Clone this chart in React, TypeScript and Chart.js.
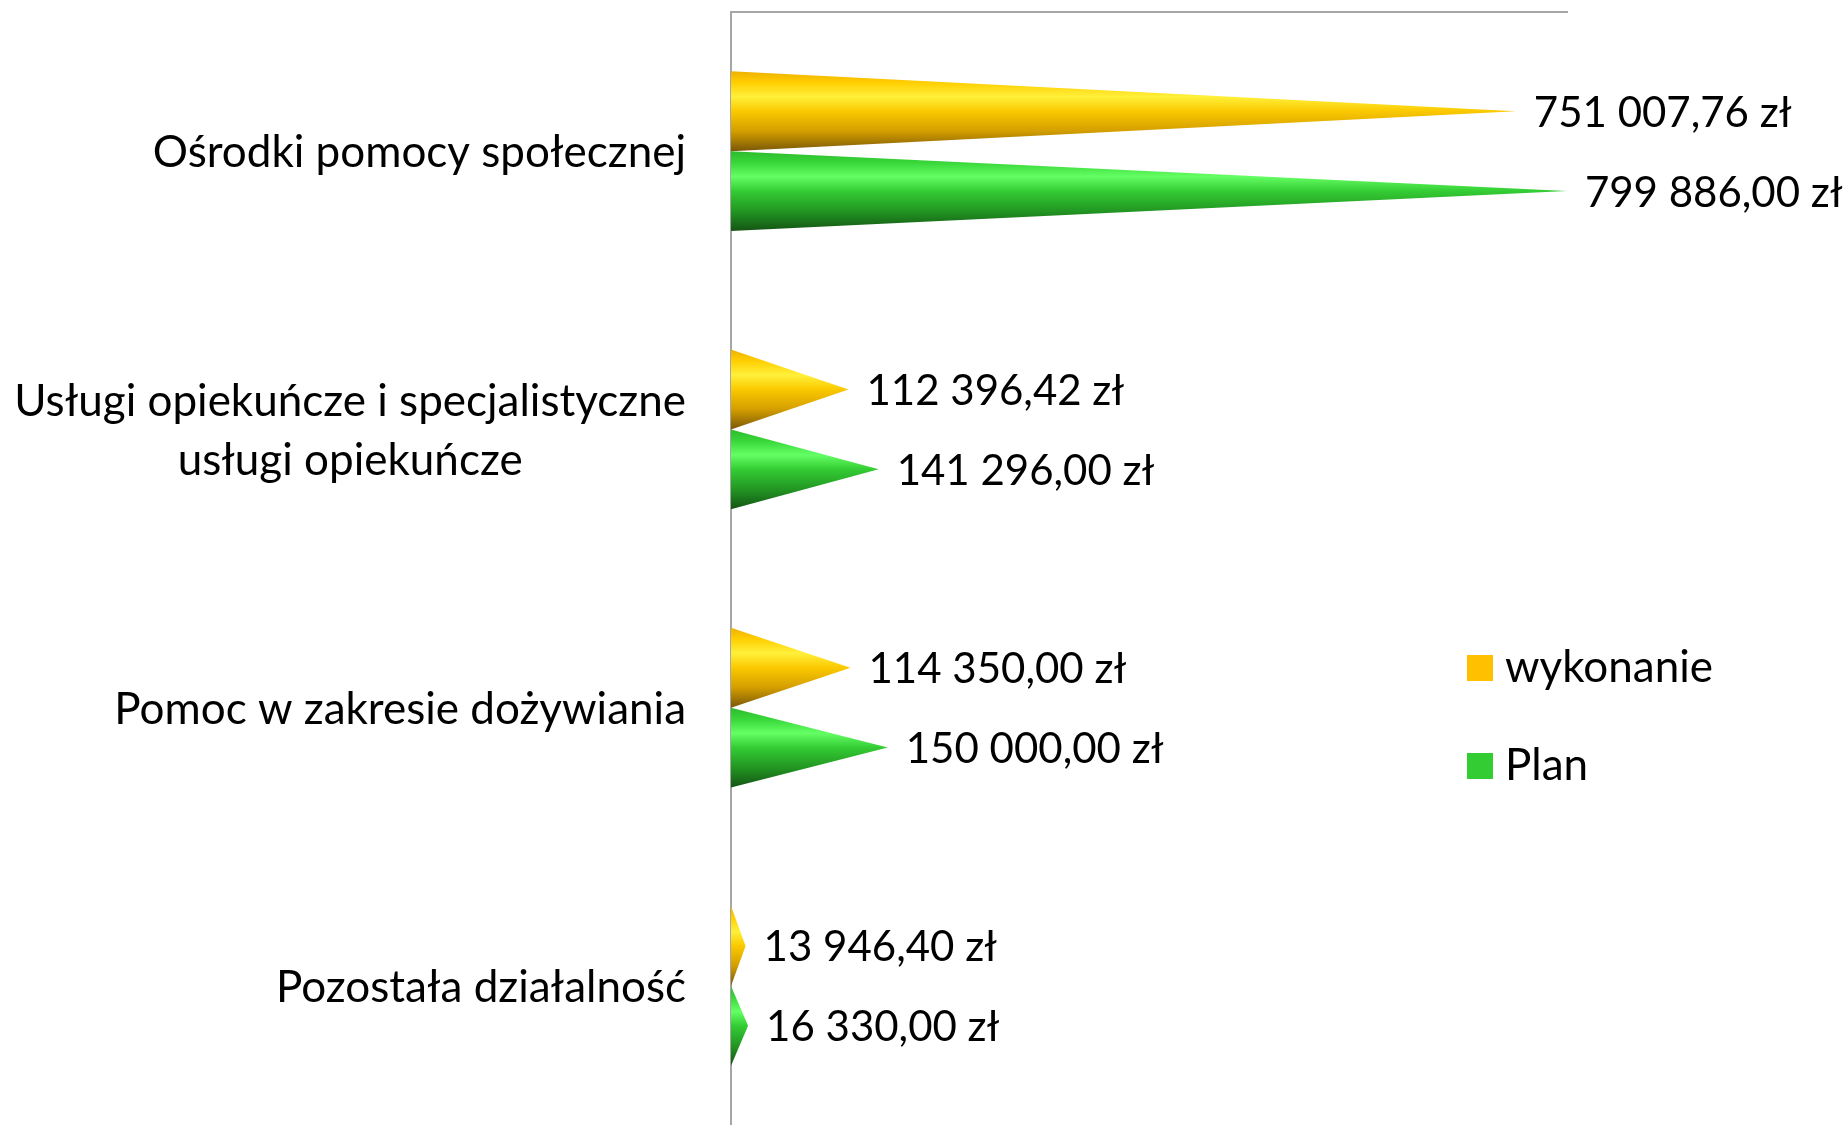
import React, { useEffect, useRef } from "react";
import { Chart, registerables } from "chart.js";

Chart.register(...registerables);

const categories: string[][] = [
  ["Ośrodki pomocy społecznej"],
  ["Usługi opiekuńcze i specjalistyczne", "usługi opiekuńcze"],
  ["Pomoc w zakresie dożywiania"],
  ["Pozostała działalność"],
];
const wykonanie = [751007.76, 112396.42, 114350.0, 13946.4];
const plan = [799886.0, 141296.0, 150000.0, 16330.0];
const seriesNames = ["wykonanie", "Plan"];
const seriesColors = ["#FFC000", "#33CC33"];
const xMax = 800000;

const FONT = "Lato";
const LABEL_SIZE = 44;
const VALUE_SIZE = 42;
const LEGEND_SIZE = 44;

const gradientStops: [number, string][][] = [
  [
    [0, "#EFB000"],
    [0.14, "#FFCE00"],
    [0.32, "#FFF03A"],
    [0.5, "#FBC900"],
    [0.75, "#D49E00"],
    [1, "#7A5806"],
  ],
  [
    [0, "#2DBA2D"],
    [0.14, "#38D638"],
    [0.32, "#64FF64"],
    [0.5, "#34CC34"],
    [0.75, "#229622"],
    [1, "#145414"],
  ],
];

function fmt(v: number): string {
  const fixed = v.toFixed(2);
  const [intPart, dec] = fixed.split(".");
  const withSpaces = intPart.replace(/\B(?=(\d{3})+(?!\d))/g, " ");
  return `${withSpaces},${dec} zł`;
}

const conePlugin = {
  id: "cones",
  afterDatasetsDraw(chart: any) {
    const ctx = chart.ctx;
    chart.data.datasets.forEach((ds: any, di: number) => {
      const meta = chart.getDatasetMeta(di);
      meta.data.forEach((el: any, i: number) => {
        const { x, y, base, height } = el.getProps(["x", "y", "base", "height"], true);
        const top = y - height / 2;
        const bottom = y + height / 2;
        const g = ctx.createLinearGradient(0, top, 0, bottom);
        gradientStops[di].forEach(([o, c]) => g.addColorStop(o, c));
        ctx.save();
        ctx.beginPath();
        ctx.moveTo(base, top);
        ctx.lineTo(x, y);
        ctx.lineTo(base, bottom);
        ctx.closePath();
        ctx.fillStyle = g;
        ctx.fill();
        ctx.restore();

        ctx.save();
        ctx.font = `${VALUE_SIZE}px ${FONT}`;
        ctx.fillStyle = "#000000";
        ctx.textAlign = "left";
        ctx.textBaseline = "middle";
        ctx.fillText(fmt(ds.data[i]), x + 18, y + 2);
        ctx.restore();
      });
    });
  },
};

const categoryLabelPlugin = {
  id: "catLabels",
  afterDraw(chart: any) {
    const ctx = chart.ctx;
    const yScale = chart.scales.y;
    const right = chart.chartArea.left - 45;
    const lineH = 59;
    ctx.save();
    ctx.font = `${LABEL_SIZE}px ${FONT}`;
    ctx.fillStyle = "#000000";
    ctx.textBaseline = "middle";
    ctx.textAlign = "center";
    categories.forEach((lines, i) => {
      const cy = yScale.getPixelForValue(i) + 2;
      const w = Math.max(...lines.map((l) => ctx.measureText(l).width));
      const cx = right - w / 2;
      lines.forEach((l, li) => {
        const ly = cy + (li - (lines.length - 1) / 2) * lineH;
        ctx.fillText(l, cx, ly);
      });
    });
    ctx.restore();
  },
};

const legendPlugin = {
  id: "customLegend",
  afterDraw(chart: any) {
    const ctx = chart.ctx;
    const x0 = 1467;
    const ys = [668, 766];
    ctx.save();
    ctx.font = `${LEGEND_SIZE}px ${FONT}`;
    ctx.textBaseline = "middle";
    ctx.textAlign = "left";
    seriesNames.forEach((n, i) => {
      ctx.fillStyle = seriesColors[i];
      ctx.fillRect(x0, ys[i] - 13, 26, 26);
      ctx.fillStyle = "#000000";
      ctx.fillText(n, x0 + 38, ys[i]);
    });
    ctx.restore();
  },
};

export default function App() {
  const ref = useRef<HTMLCanvasElement | null>(null);
  useEffect(() => {
    document.body.style.margin = "0";
    const canvas = ref.current!;
    const chart = new Chart(canvas, {
      type: "bar",
      data: {
        labels: categories.map((c) => c.join(" ")),
        datasets: [
          {
            label: seriesNames[0],
            data: wykonanie,
            backgroundColor: "rgba(0,0,0,0)",
            borderWidth: 0,
          },
          {
            label: seriesNames[1],
            data: plan,
            backgroundColor: "rgba(0,0,0,0)",
            borderWidth: 0,
          },
        ],
      },
      options: {
        indexAxis: "y",
        responsive: false,
        animation: false,
        layout: { padding: { left: 731, top: 12, right: 280, bottom: 0 } },
        datasets: { bar: { categoryPercentage: 0.575, barPercentage: 1 } },
        plugins: {
          legend: { display: false },
          tooltip: { enabled: false },
        },
        scales: {
          x: {
            position: "top",
            min: 0,
            max: xMax,
            grid: { display: false },
            ticks: { display: false },
            border: { display: true, color: "#A6A6A6", width: 2 },
            afterFit: (s: any) => {
              s.height = 0;
            },
          },
          y: {
            grid: { display: false },
            ticks: { display: false },
            border: { display: true, color: "#A6A6A6", width: 2 },
            afterFit: (s: any) => {
              s.width = 0;
            },
          },
        },
      } as any,
      plugins: [conePlugin, categoryLabelPlugin, legendPlugin],
    });
    return () => chart.destroy();
  }, []);
  return (
    <div style={{ width: 1847, height: 1125 }}>
      <canvas ref={ref} width={1847} height={1125} style={{ display: "block" }} />
    </div>
  );
}
